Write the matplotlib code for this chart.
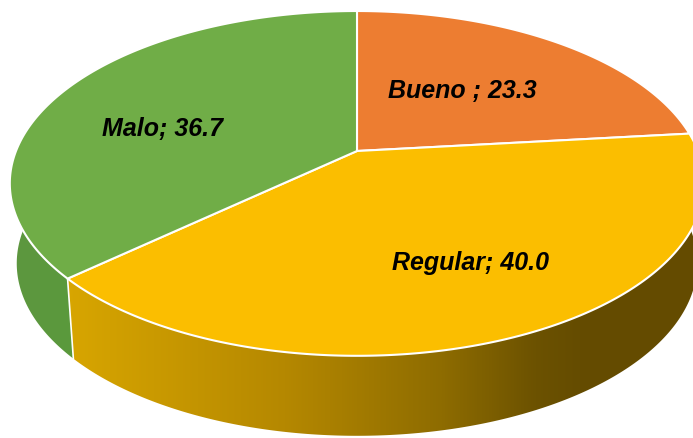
import numpy as np
import matplotlib.pyplot as plt
from matplotlib.patches import Polygon
from matplotlib.colors import LinearSegmentedColormap

# survey results, clockwise from 12 o'clock
categories = ["Bueno ", "Regular", "Malo"]
values = [23.3, 40.0, 36.7]
top_colors = ["#ED7D31", "#FBBE00", "#70AD47"]

# side shading per slice: (x position, colour) stops
side_shades = {
    "Bueno ": [(0.0, "#B85F22"), (1.0, "#8A4618")],
    "Regular": [(0.0, "#D8A600"), (0.35, "#B58800"), (0.6, "#8E6C00"),
                (0.75, "#6C5200"), (0.82, "#654C00"), (1.0, "#644B00")],
    "Malo": [(0.0, "#5E9640"), (1.0, "#5A9A3C")],
}

# label anchors in pixel space
label_pos = {"Bueno ": (462, 91), "Regular": (470, 263), "Malo": (162, 129)}

W, H = 693, 439
CX, CY = 357, 152      # pie apex
RX, RY = 341, 166.3
TILT = 0.188           # perspective factor (far side smaller)
DEPTH = 80
BASE_SHRINK = 0.98     # bottom rim a touch narrower


def project(u, v):
    s = 1 + TILT * v
    return CX + RX * u / s, CY - RY * v / s


def arc(t0, t1, n=300):
    t = np.radians(np.linspace(t0, t1, n))
    return project(np.cos(t), np.sin(t))


def base(xs):
    return CX + (xs - CX) * BASE_SHRINK


fig = plt.figure(figsize=(W / 100, H / 100), dpi=100)
ax = fig.add_axes([0, 0, 1, 1])
ax.set_xlim(0, W)
ax.set_ylim(H, 0)
ax.axis("off")

total = sum(values)
bounds = 90 - np.concatenate([[0], np.cumsum(values)]) / total * 360

# side walls of the front half
for i, cat in enumerate(categories):
    a0, a1 = bounds[i], bounds[i + 1]
    lo, hi = min(a0, a1), max(a0, a1)
    for shift in (0, -360):
        s_lo, s_hi = max(lo + shift, -180), min(hi + shift, 0)
        if s_hi <= s_lo:
            continue
        xs, ys = arc(s_lo, s_hi)
        px = np.concatenate([xs, base(xs[::-1])])
        py = np.concatenate([ys, ys[::-1] + DEPTH])
        poly = Polygon(np.column_stack([px, py]), closed=True,
                       facecolor="none", edgecolor="none")
        ax.add_patch(poly)
        cmap = LinearSegmentedColormap.from_list(cat, side_shades[cat])
        grad = np.linspace(0, 1, 512)[None, :]
        ext = [65, W, H, 0] if cat == "Regular" else [0, 80, H, 0]
        img = ax.imshow(np.repeat(grad, 2, axis=0), cmap=cmap, aspect="auto",
                        extent=ext, interpolation="bilinear", zorder=1)
        img.set_clip_path(poly)

# white seam on the side at the slice boundaries in the front
for b in bounds:
    a = ((b + 180) % 360) - 180
    if -180 < a < 0:
        x0, y0 = project(np.cos(np.radians(a)), np.sin(np.radians(a)))
        ax.plot([x0, base(x0)], [y0, y0 + DEPTH], color="white", lw=1.2,
                zorder=2)

# top faces
for i, cat in enumerate(categories):
    xs, ys = arc(bounds[i], bounds[i + 1])
    pts = np.column_stack([np.concatenate([[CX], xs]),
                           np.concatenate([[CY], ys])])
    ax.add_patch(Polygon(pts, closed=True, facecolor=top_colors[i],
                         edgecolor="white", lw=1.5, joinstyle="round",
                         zorder=3))

# data labels
for cat, val in zip(categories, values):
    x, y = label_pos[cat]
    ax.text(x, y, f"{cat}; {val:.1f}", ha="center", va="center",
            fontsize=18, fontweight="bold", fontstyle="italic",
            family="Liberation Sans", color="black", zorder=4)

fig.savefig("out.png", dpi=100)
